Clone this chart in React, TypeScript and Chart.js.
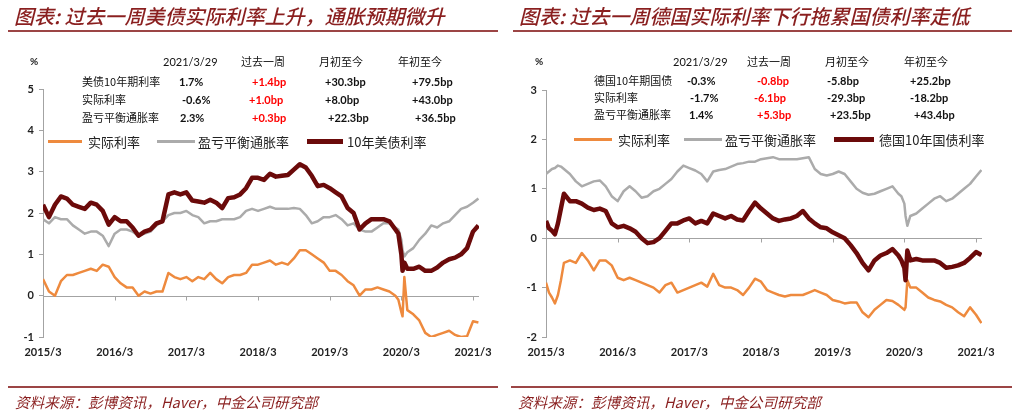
import React, { useEffect, useRef } from "react";
import { Chart, registerables } from "chart.js";

Chart.register(...registerables);

// ---------- shared axis data ----------
const X_TICK_MONTHS = [0, 12, 24, 36, 48, 60, 72]; // months since 2015/3
const X_TICK_LABELS = ["2015/3", "2016/3", "2017/3", "2018/3", "2019/3", "2020/3", "2021/3"];

// ---------- US chart ----------
const US_X = [
  0, 1, 2, 3, 4, 5, 6, 7, 8, 9, 10, 11, 12, 13, 14, 15, 16, 17, 18, 19,
  20, 21, 22, 23, 24, 25, 26, 27, 28, 29, 30, 31, 32, 33, 34, 35, 36, 37, 38, 39,
  40, 41, 42, 43, 44, 45, 46, 47, 48, 49, 50, 51, 52, 53, 54, 55, 56, 57, 58, 59,
  59.5, 60, 60.2, 60.5, 61,
  62, 63, 64, 65, 66, 67, 68, 69, 70, 71, 72, 72.9,
];
const US_NOMINAL = [
  2.2, 1.9, 2.2, 2.4, 2.35, 2.2, 2.15, 2.1, 2.25, 2.2, 2.05, 1.72, 1.9, 1.8, 1.8, 1.65, 1.45, 1.55, 1.6, 1.75,
  1.8, 2.45, 2.5, 2.45, 2.5, 2.3, 2.28, 2.25, 2.32, 2.25, 2.12, 2.36, 2.38, 2.45, 2.6, 2.85, 2.85, 2.8, 2.95, 2.88,
  2.9, 2.92, 3.05, 3.18, 3.1, 2.9, 2.65, 2.68, 2.6, 2.5, 2.4, 2.12, 2.0, 1.6, 1.75, 1.85, 1.85, 1.85, 1.8, 1.6,
  1.5, 1.0, 0.6, 0.8, 0.65,
  0.65, 0.7, 0.6, 0.6, 0.68, 0.8, 0.88, 0.92, 1.0, 1.15, 1.55, 1.7,
];
const US_BREAKEVEN = [
  1.85, 1.75, 1.9, 1.85, 1.85, 1.7, 1.6, 1.5, 1.55, 1.55, 1.45, 1.2, 1.5, 1.6, 1.6, 1.55, 1.45, 1.5, 1.55, 1.7,
  1.8, 1.95, 2.0, 2.0, 2.05, 1.95, 1.9, 1.75, 1.8, 1.8, 1.85, 1.85, 1.85, 1.9, 2.05, 2.1, 2.05, 2.1, 2.15, 2.1,
  2.1, 2.1, 2.12, 2.1, 1.95, 1.75, 1.8, 1.9, 1.9, 1.95, 1.85, 1.7, 1.75, 1.6, 1.55, 1.55, 1.65, 1.75, 1.75, 1.65,
  1.6, 1.35, 1.1, 0.95, 1.05,
  1.15, 1.35, 1.5, 1.7, 1.65, 1.75, 1.8, 1.95, 2.1, 2.15, 2.25, 2.35,
];
const US_REAL = [
  0.4, 0.1, 0.0, 0.35, 0.5, 0.5, 0.55, 0.6, 0.65, 0.6, 0.75, 0.7, 0.45, 0.3, 0.2, 0.2, 0.0, 0.1, 0.05, 0.1,
  0.1, 0.55, 0.45, 0.4, 0.45, 0.35, 0.45, 0.4, 0.55, 0.4, 0.3, 0.45, 0.5, 0.5, 0.55, 0.75, 0.75, 0.8, 0.85, 0.75,
  0.8, 0.75, 0.9, 1.1, 1.1, 1.0, 0.9, 0.8, 0.6, 0.6, 0.5, 0.35, 0.25, 0.0, 0.15, 0.15, 0.2, 0.15, 0.1, 0.0,
  -0.1, -0.4, -0.5, 0.45, -0.35,
  -0.45, -0.6, -0.9, -1.0, -0.95, -0.9, -0.85, -0.95, -1.0, -0.98, -0.62, -0.65,
];

// ---------- German chart ----------
const DE_X = [
  0, 0.5, 1, 1.5, 2, 2.5, 3,
  4, 5, 6, 7, 8, 9, 10, 11, 12, 13, 14, 15, 16, 17, 18, 19,
  20, 21, 22, 23, 24, 25, 26, 27, 28, 29, 30, 31, 32, 33, 34, 35, 36, 37, 38, 39,
  40, 41, 42, 43, 44, 45, 46, 47, 48, 49, 50, 51, 52, 53, 54, 55, 56, 57, 58, 59,
  59.5, 60, 60.2, 60.5, 61,
  62, 63, 64, 65, 66, 67, 68, 69, 70, 71, 72, 72.9,
];
const DE_NOMINAL = [
  0.35, 0.2, 0.15, 0.08, 0.3, 0.6, 0.9,
  0.75, 0.75, 0.7, 0.62, 0.57, 0.6, 0.55, 0.3, 0.22, 0.25, 0.2, 0.13, 0.0, -0.1, -0.08, 0.0,
  0.15, 0.3, 0.3, 0.36, 0.4, 0.3, 0.35, 0.3, 0.5, 0.45, 0.4, 0.45, 0.38, 0.36, 0.55, 0.72, 0.6, 0.5, 0.4, 0.35,
  0.38, 0.4, 0.45, 0.55, 0.4, 0.3, 0.22, 0.2, 0.12, 0.06, 0.0, -0.14, -0.3, -0.5, -0.65, -0.45, -0.35, -0.3, -0.22, -0.35,
  -0.45, -0.6, -0.85, -0.25, -0.45,
  -0.42, -0.45, -0.45, -0.45, -0.5, -0.6, -0.58, -0.55, -0.5, -0.4, -0.28, -0.34,
];
const DE_BREAKEVEN = [
  1.3, 1.35, 1.4, 1.42, 1.47, 1.45, 1.4,
  1.3, 1.15, 1.05, 1.1, 1.15, 1.17, 1.05, 0.85, 0.75, 0.95, 1.05, 0.95, 0.82, 0.85, 0.95, 1.0,
  1.1, 1.2, 1.35, 1.47, 1.42, 1.37, 1.3, 1.15, 1.35, 1.38, 1.4, 1.45, 1.5, 1.52, 1.55, 1.55, 1.6, 1.62, 1.64, 1.6,
  1.6, 1.6, 1.6, 1.62, 1.64, 1.4, 1.3, 1.27, 1.3, 1.35, 1.3, 1.15, 1.0, 0.92, 0.88, 0.9, 0.95, 1.0, 1.05, 0.9,
  0.85, 0.7, 0.45, 0.25, 0.45,
  0.5, 0.6, 0.7, 0.8, 0.85, 0.75, 0.8, 0.9, 1.0, 1.1, 1.25, 1.38,
];
const DE_REAL = [
  -0.9, -1.1, -1.2, -1.32, -1.15, -0.85, -0.5,
  -0.45, -0.5, -0.3, -0.45, -0.65, -0.45, -0.45, -0.55, -0.8, -0.85, -0.8, -0.85, -0.9, -0.95, -1.0, -1.1,
  -0.95, -0.9, -1.1, -1.05, -1.0, -0.95, -0.9, -0.98, -0.72, -0.95, -1.0, -1.0, -1.05, -1.15, -1.0, -0.82, -0.88, -1.05, -1.1, -1.15,
  -1.18, -1.15, -1.15, -1.15, -1.1, -1.05, -1.1, -1.15, -1.25, -1.28, -1.32, -1.3, -1.3, -1.5, -1.6, -1.45, -1.35, -1.25, -1.27, -1.35,
  -1.4, -1.45, -1.4, -0.85, -1.0,
  -1.0, -1.1, -1.2, -1.25, -1.28, -1.35, -1.4, -1.5, -1.58, -1.4, -1.55, -1.72,
];

// ---------- table texts ----------
const TABLE_HEADERS = ["2021/3/29", "过去一周", "月初至今", "年初至今"];
const US_ROW_LABELS = ["美债10年期利率", "实际利率", "盈亏平衡通胀率"];
const US_LEVEL = ["1.7%", "-0.6%", "2.3%"];
const US_WEEK = ["+1.4bp", "+1.0bp", "+0.3bp"];
const US_MTD = ["+30.3bp", "+8.0bp", "+22.3bp"];
const US_YTD = ["+79.5bp", "+43.0bp", "+36.5bp"];
const DE_ROW_LABELS = ["德国10年期国债", "实际利率", "盈亏平衡通胀率"];
const DE_LEVEL = ["-0.3%", "-1.7%", "1.4%"];
const DE_WEEK = ["-0.8bp", "-6.1bp", "+5.3bp"];
const DE_MTD = ["-5.8bp", "-29.3bp", "+23.5bp"];
const DE_YTD = ["+25.2bp", "-18.2bp", "+43.4bp"];
const US_LEGEND = ["实际利率", "盈亏平衡通胀率", "10年美债利率"];
const DE_LEGEND = ["实际利率", "盈亏平衡通胀率", "德国10年国债利率"];
const US_TITLE = "图表: 过去一周美债实际利率上升，通胀预期微升";
const DE_TITLE = "图表: 过去一周德国实际利率下行拖累国债利率走低";
const SOURCE = "资料来源：彭博资讯，Haver，中金公司研究部";

// ---------- styles ----------
const ORANGE = "#EE8A3E";
const GRAY = "#ABABAB";
const DARK = "#6B0A0A";
const AXIS = "#A3A3A3";
const BRAND = "#8A1F1F";
const CJK = '"Noto Sans CJK SC", "Noto Sans", sans-serif';
const LATIN = 'Lato, "Liberation Sans", sans-serif';

const zeroLinePlugin = {
  id: "zeroLine",
  beforeDatasetsDraw(chart: any) {
    const { ctx, chartArea, scales } = chart;
    const y = Math.round(scales.y.getPixelForValue(0)) + 0.5;
    ctx.save();
    ctx.strokeStyle = AXIS;
    ctx.lineWidth = 1;
    ctx.beginPath();
    ctx.moveTo(chartArea.left, y);
    ctx.lineTo(chartArea.right, y);
    X_TICK_MONTHS.forEach((m) => {
      const x = Math.round(scales.x.getPixelForValue(m)) + 0.5;
      ctx.moveTo(x, y);
      ctx.lineTo(x, y + 4);
    });
    ctx.stroke();
    ctx.restore();
  },
};

type Geom = { yWidth: number; top: number; right: number; bottom: number };

function LineChart(props: {
  xs: number[];
  real: number[];
  be: number[];
  nom: number[];
  yMin: number;
  yMax: number;
  geom: Geom;
  left: number;
}) {
  const ref = useRef<HTMLCanvasElement | null>(null);
  useEffect(() => {
    if (!ref.current) return;
    const { xs, real, be, nom, yMin, yMax, geom } = props;
    const pts = (ys: number[]) => ys.map((y, i) => ({ x: xs[i], y }));
    const tickFont = { family: LATIN, size: 11, weight: "bold" as const };
    const chart = new Chart(ref.current, {
      type: "line",
      data: {
        datasets: [
          { data: pts(nom), borderColor: DARK, borderWidth: 4.5, pointRadius: 0, order: 0, borderJoinStyle: "round" },
          { data: pts(be), borderColor: GRAY, borderWidth: 2.5, pointRadius: 0, order: 1, borderJoinStyle: "round" },
          { data: pts(real), borderColor: ORANGE, borderWidth: 2.5, pointRadius: 0, order: 2, borderJoinStyle: "round" },
        ],
      },
      options: {
        responsive: false,
        animation: false,
        devicePixelRatio: 1,
        layout: { padding: { left: 0, top: geom.top, right: geom.right, bottom: geom.bottom } },
        plugins: { legend: { display: false }, tooltip: { enabled: false }, title: { display: false } },
        scales: {
          x: {
            type: "linear",
            min: 0,
            max: 73,
            afterBuildTicks: (s: any) => {
              s.ticks = X_TICK_MONTHS.map((v) => ({ value: v }));
            },
            afterFit: (s: any) => {
              s.height = 24;
            },
            grid: { display: false, drawTicks: false },
            border: { display: false },
            ticks: {
              autoSkip: false,
              maxRotation: 0,
              padding: 9,
              color: "#222",
              font: tickFont,
              callback: (v: any) => {
                const i = X_TICK_MONTHS.indexOf(Number(v));
                return i >= 0 ? X_TICK_LABELS[i] : "";
              },
            },
          },
          y: {
            min: yMin,
            max: yMax,
            afterFit: (s: any) => {
              s.width = geom.yWidth;
            },
            grid: { drawOnChartArea: false, tickLength: 4, color: AXIS },
            border: { display: true, color: AXIS },
            ticks: { stepSize: 1, padding: 5, color: "#222", font: tickFont },
          },
        },
      } as any,
      plugins: [zeroLinePlugin],
    });
    return () => chart.destroy();
  }, []);
  return (
    <canvas
      ref={ref}
      width={512}
      height={410}
      style={{ position: "absolute", left: props.left, top: 0, width: 512, height: 410 }}
    />
  );
}

function Txt(props: { x: number; y: number; children: React.ReactNode; style?: React.CSSProperties }) {
  return (
    <div
      style={{
        position: "absolute",
        left: props.x,
        top: props.y,
        transform: "translateY(-50%)",
        whiteSpace: "nowrap",
        lineHeight: 1,
        ...props.style,
      }}
    >
      {props.children}
    </div>
  );
}

function Rule(props: { x1: number; x2: number; y: number }) {
  return (
    <div
      style={{
        position: "absolute",
        left: props.x1,
        top: props.y,
        width: props.x2 - props.x1,
        height: 2,
        background: "#9C4545",
      }}
    />
  );
}

function LegendItem(props: { x1: number; x2: number; tx: number; y: number; color: string; w: number; label: string }) {
  return (
    <>
      <div
        style={{
          position: "absolute",
          left: props.x1,
          top: props.y - props.w / 2,
          width: props.x2 - props.x1,
          height: props.w,
          background: props.color,
        }}
      />
      <Txt x={props.tx} y={props.y} style={{ fontFamily: CJK, fontSize: 13, color: "#222" }}>
        {props.label}
      </Txt>
    </>
  );
}

type TableLayout = {
  pctX: number;
  headX: number[];
  rowY: number[];
  labelX: number;
  colX: number[][];
};

function Table(props: {
  layout: TableLayout;
  labels: string[];
  cols: string[][];
}) {
  const { layout, labels, cols } = props;
  const hy = 61;
  const numStyle: React.CSSProperties = { fontFamily: LATIN, fontSize: 11, fontWeight: 700, color: "#111" };
  return (
    <>
      <Txt x={layout.pctX} y={hy} style={{ fontFamily: LATIN, fontSize: 10, fontWeight: 700, color: "#222" }}>
        %
      </Txt>
      {TABLE_HEADERS.map((h, i) => (
        <Txt
          key={h}
          x={layout.headX[i]}
          y={hy}
          style={i === 0 ? { fontFamily: LATIN, fontSize: 11, color: "#111" } : { fontFamily: CJK, fontSize: 11, color: "#111" }}
        >
          {h}
        </Txt>
      ))}
      {labels.map((l, r) => (
        <React.Fragment key={l + r}>
          <Txt x={layout.labelX} y={layout.rowY[r]} style={{ fontFamily: CJK, fontSize: 11, color: "#111" }}>
            {l}
          </Txt>
          {cols.map((c, ci) => (
            <Txt
              key={ci}
              x={layout.colX[ci][r]}
              y={layout.rowY[r]}
              style={{ ...numStyle, color: ci === 1 ? "#FF0000" : "#111" }}
            >
              {c[r]}
            </Txt>
          ))}
        </React.Fragment>
      ))}
    </>
  );
}

const titleStyle: React.CSSProperties = {
  fontFamily: CJK,
  fontSize: 20,
  fontWeight: 500,
  fontStyle: "italic",
  color: BRAND,
};
const sourceStyle: React.CSSProperties = {
  fontFamily: CJK,
  fontSize: 14.6,
  fontStyle: "italic",
  color: BRAND,
};

export default function App() {
  return (
    <div
      style={{
        position: "absolute",
        left: 0,
        top: 0,
        width: 1024,
        height: 410,
        background: "#fff",
        overflow: "hidden",
      }}
    >
      {/* left panel */}
      <LineChart
        xs={US_X}
        real={US_REAL}
        be={US_BREAKEVEN}
        nom={US_NOMINAL}
        yMin={-1}
        yMax={5}
        left={0}
        geom={{ yWidth: 43, top: 89, right: 33, bottom: 49 }}
      />
      <Txt x={14} y={16} style={titleStyle}>{US_TITLE}</Txt>
      <Rule x1={8} x2={498} y={30} />
      <Table
        layout={{
          pctX: 30,
          headX: [163, 241, 319, 398],
          rowY: [81, 99, 117],
          labelX: 82,
          colX: [
            [179, 182, 180],
            [252, 249, 252],
            [325, 325, 328],
            [412, 412, 415],
          ],
        }}
        labels={US_ROW_LABELS}
        cols={[US_LEVEL, US_WEEK, US_MTD, US_YTD]}
      />
      <LegendItem x1={48} x2={82} tx={88} y={141} color={ORANGE} w={3} label={US_LEGEND[0]} />
      <LegendItem x1={157} x2={195} tx={198} y={141} color={GRAY} w={3} label={US_LEGEND[1]} />
      <LegendItem x1={307} x2={343} tx={347} y={141} color={DARK} w={5} label={US_LEGEND[2]} />
      <Rule x1={8} x2={498} y={386} />
      <Txt x={15} y={402} style={sourceStyle}>{SOURCE}</Txt>

      {/* right panel */}
      <LineChart
        xs={DE_X}
        real={DE_REAL}
        be={DE_BREAKEVEN}
        nom={DE_NOMINAL}
        yMin={-2}
        yMax={3}
        left={512}
        geom={{ yWidth: 34, top: 90, right: 42, bottom: 49 }}
      />
      <Txt x={519} y={16} style={titleStyle}>{DE_TITLE}</Txt>
      <Rule x1={513} x2={1012} y={30} />
      <Table
        layout={{
          pctX: 535,
          headX: [673, 747, 825, 904],
          rowY: [80, 97, 114],
          labelX: 594,
          colX: [
            [687, 690, 689],
            [757, 754, 757],
            [827, 827, 830],
            [910, 910, 914],
          ],
        }}
        labels={DE_ROW_LABELS}
        cols={[DE_LEVEL, DE_WEEK, DE_MTD, DE_YTD]}
      />
      <LegendItem x1={574} x2={612} tx={618} y={139} color={ORANGE} w={3} label={DE_LEGEND[0]} />
      <LegendItem x1={684} x2={722} tx={725} y={139} color={GRAY} w={3} label={DE_LEGEND[1]} />
      <LegendItem x1={834} x2={874} tx={879} y={139} color={DARK} w={5} label={DE_LEGEND[2]} />
      <Rule x1={511} x2={1012} y={386} />
      <Txt x={518} y={402} style={sourceStyle}>{SOURCE}</Txt>
    </div>
  );
}
